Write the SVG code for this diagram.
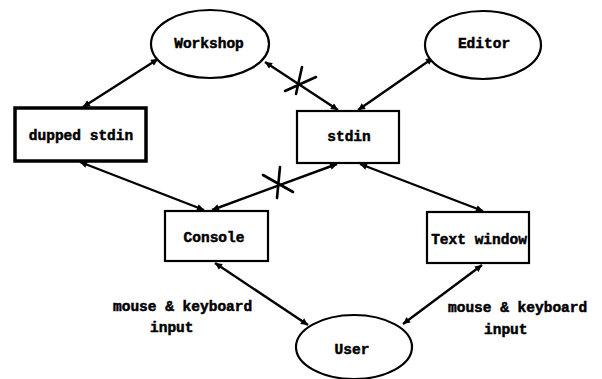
<svg xmlns="http://www.w3.org/2000/svg" width="602" height="379" viewBox="0 0 602 379">
<style>
.n{fill:#fff;stroke:#000;stroke-width:2.2}
.thick{stroke-width:3.5}
.t{font-family:"Liberation Mono","Courier New",monospace;font-weight:bold;font-size:14.5px;fill:#000;stroke:#000;stroke-width:0.5;text-anchor:middle}
.l{text-anchor:start}
.c{stroke:#000;stroke-width:2.4;fill:none;marker-start:url(#ah);marker-end:url(#ah)}
.x{stroke:#000;stroke-width:2.6;fill:none;stroke-linecap:round}
</style>
<defs>
<marker id="ah" viewBox="0 0 10 10" refX="10" refY="5" markerWidth="11" markerHeight="7" markerUnits="userSpaceOnUse" orient="auto-start-reverse">
<path d="M0,0 L10,5 L0,10 z" fill="#000"/>
</marker>
</defs>
<rect width="602" height="379" fill="#fff"/>
<g id="connectors">
<line class="c" x1="158" y1="59" x2="83" y2="107"/>
<line class="c" x1="265" y1="62" x2="338" y2="110"/>
<line class="c" x1="433" y1="58" x2="358" y2="110"/>
<line class="c" x1="80" y1="162" x2="204" y2="210"/>
<line class="c" x1="212" y1="210" x2="337" y2="164"/>
<line class="c" x1="360" y1="164" x2="483" y2="211"/>
<line class="c" x1="215" y1="263" x2="308" y2="325"/>
<line class="c" x1="482" y1="265" x2="403" y2="324"/>
<path class="x" d="M302,67 L296,94 M285,91 L316,77"/>
<path class="x" d="M280,167 L277,198 M263,175 L293,192"/>
</g>
<g id="workshop"><ellipse class="n" cx="210" cy="44" rx="59" ry="34"/><text class="t" x="209" y="48">Workshop</text></g>
<g id="editor"><ellipse class="n" cx="483" cy="45" rx="58" ry="34"/><text class="t" x="484" y="48">Editor</text></g>
<g id="dupped-stdin"><rect class="n thick" x="15" y="108" width="131" height="53"/><text class="t" x="81" y="140">dupped stdin</text></g>
<g id="stdin"><rect class="n" x="297" y="111" width="102" height="52"/><text class="t" x="349" y="141">stdin</text></g>
<g id="console"><rect class="n" x="165" y="211" width="103" height="50"/><text class="t" x="214" y="242">Console</text></g>
<g id="text-window"><rect class="n" x="427" y="212" width="102" height="51"/><text class="t" x="479" y="244">Text window</text></g>
<g id="user"><ellipse class="n" cx="354" cy="347" rx="58" ry="32"/><text class="t" x="352" y="354">User</text></g>
<g id="labels">
<text class="t l" x="113" y="311">mouse &amp; keyboard</text>
<text class="t l" x="150" y="332">input</text>
<text class="t l" x="448" y="312">mouse &amp; keyboard</text>
<text class="t l" x="484" y="334">input</text>
</g>
</svg>
